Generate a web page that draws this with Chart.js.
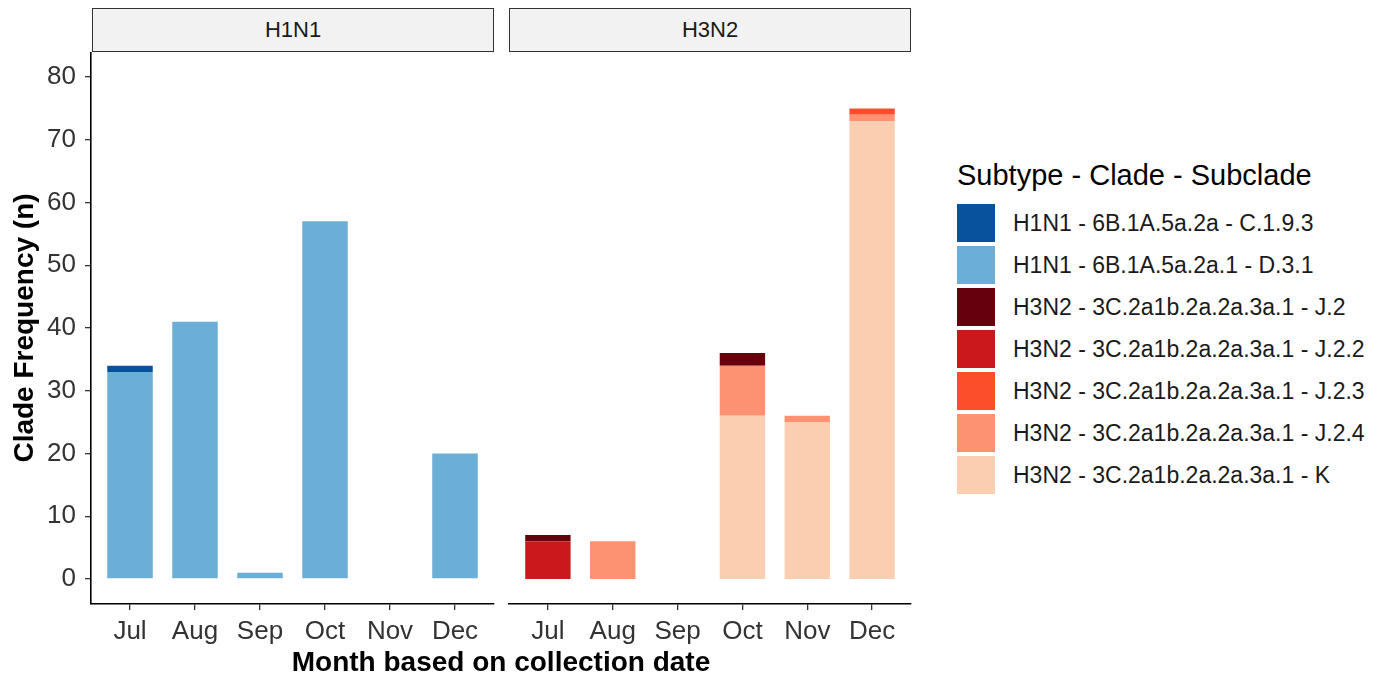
<!DOCTYPE html>
<html lang="en">
<head>
    <meta charset="UTF-8">
    <script src="https://cdn.jsdelivr.net/npm/chart.js"></script>
    <style>
        body {
            margin: 0;
            width: 1389px;
            height: 679px;
            background: #fff;
            font-family: "Liberation Sans", Arial, sans-serif;
            position: relative;
            overflow: hidden;
        }
        .panel {
            position: absolute;
            top: 52px;
            height: 600px;
        }
        .strip {
            position: absolute;
            top: 8px;
            height: 44px;
            box-sizing: border-box;
            border: 1.5px solid #333;
            background: #f2f2f2;
            color: #1a1a1a;
            font-size: 22px;
            display: flex;
            align-items: center;
            justify-content: center;
        }
        .x-title {
            position: absolute;
            left: 91px;
            width: 820px;
            top: 646px;
            text-align: center;
            font-size: 28px;
            font-weight: bold;
            color: #000;
        }
        .legend {
            position: absolute;
            left: 957px;
            top: 161px;
        }
        .legend-title {
            font-size: 29px;
            line-height: 1;
            color: #000;
            margin-bottom: 12px;
        }
        .legend-item {
            display: flex;
            align-items: center;
            height: 42px;
        }
        .legend-color {
            width: 38px;
            height: 38px;
            margin-right: 18px;
        }
        .legend-item span {
            font-size: 23px;
            color: #1a1a1a;
        }
    </style>
</head>
<body>
    <div class="strip" style="left: 92px; width: 402px;">H1N1</div>
    <div class="strip" style="left: 509px; width: 402px;">H3N2</div>

    <div class="panel" style="left: 0; width: 500px;"><canvas id="h1Chart"></canvas></div>
    <div class="panel" style="left: 500px; width: 416px;"><canvas id="h3Chart"></canvas></div>

    <div class="x-title">Month based on collection date</div>
    <div class="legend" id="legend">
        <div class="legend-title">Subtype - Clade - Subclade</div>
    </div>

    <script>
        const months = ['Jul', 'Aug', 'Sep', 'Oct', 'Nov', 'Dec'];
        const yTicks = [0, 10, 20, 30, 40, 50, 60, 70, 80];

        // legend order = stacking order from top to bottom
        const cladeLabels = [
            'H1N1 - 6B.1A.5a.2a - C.1.9.3',
            'H1N1 - 6B.1A.5a.2a.1 - D.3.1',
            'H3N2 - 3C.2a1b.2a.2a.3a.1 - J.2',
            'H3N2 - 3C.2a1b.2a.2a.3a.1 - J.2.2',
            'H3N2 - 3C.2a1b.2a.2a.3a.1 - J.2.3',
            'H3N2 - 3C.2a1b.2a.2a.3a.1 - J.2.4',
            'H3N2 - 3C.2a1b.2a.2a.3a.1 - K'
        ];
        const cladeColors = ['#08519c', '#6baed6', '#67000d', '#cb181d', '#fc4e2a', '#fc9272', '#fbceb1'];

        // counts per month (Jul..Dec)
        const h1n1_C193 = [1, 0, 0, 0, 0, 0];
        const h1n1_D31  = [33, 41, 1, 57, 0, 20];
        const h3n2_J2   = [1, 0, 0, 2, 0, 0];
        const h3n2_J22  = [6, 0, 0, 0, 0, 0];
        const h3n2_J23  = [0, 0, 0, 0, 0, 1];
        const h3n2_J24  = [0, 6, 0, 8, 1, 1];
        const h3n2_K    = [0, 0, 0, 26, 25, 73];

        Chart.defaults.font.family = '"Liberation Sans", Arial, sans-serif';

        function makeDatasets(series, idx) {
            // first dataset is drawn at the bottom of the stack, so reverse
            const sets = series.map((vals, i) => ({
                label: cladeLabels[idx[i]],
                data: vals.map((v, j) => ({ x: j + 1, y: v })),
                backgroundColor: cladeColors[idx[i]],
                borderWidth: 0,
                barPercentage: 0.7,
                categoryPercentage: 1
            }));
            return sets.reverse();
        }

        function noPad(s) {
            s.paddingTop = 0; s.paddingBottom = 0; s.paddingLeft = 0; s.paddingRight = 0;
        }

        function buildChart(id, datasets, showY, padding) {
            return new Chart(document.getElementById(id), {
                type: 'bar',
                data: { datasets: datasets },
                options: {
                    responsive: true,
                    maintainAspectRatio: false,
                    animation: false,
                    layout: { padding: padding },
                    plugins: { legend: { display: false }, tooltip: { enabled: false } },
                    scales: {
                        x: {
                            type: 'linear',
                            stacked: true,
                            offset: false,
                            min: 0.4,
                            max: 6.6,
                            afterBuildTicks: s => { s.ticks = months.map((m, i) => ({ value: i + 1 })); },
                            afterFit: s => { s.height = 48; noPad(s); },
                            ticks: {
                                callback: v => months[v - 1],
                                autoSkip: false,
                                maxRotation: 0,
                                padding: 6,
                                color: '#333',
                                font: { size: 26 }
                            },
                            grid: { offset: false, drawOnChartArea: false, tickLength: 6, color: '#333', lineWidth: 1.3 },
                            border: { color: '#000', width: 1.6 }
                        },
                        y: {
                            display: showY,
                            stacked: true,
                            min: -4,
                            max: 84,
                            afterBuildTicks: s => { s.ticks = yTicks.map(v => ({ value: v })); },
                            afterFit: s => { s.width = showY ? 91 : 0; noPad(s); },
                            ticks: {
                                padding: 9,
                                color: '#333',
                                font: { size: 26 }
                            },
                            grid: { drawOnChartArea: false, tickLength: 6, color: '#333', lineWidth: 1.3 },
                            border: { color: '#000', width: 1.6 },
                            title: {
                                display: true,
                                text: 'Clade Frequency (n)',
                                font: { size: 28, weight: 'bold' },
                                color: '#000',
                                padding: { top: 8, bottom: 0 }
                            }
                        }
                    }
                }
            });
        }

        buildChart('h1Chart', makeDatasets([h1n1_C193, h1n1_D31], [0, 1]), true,
            { left: 0, right: 6, top: 0, bottom: 0 });
        buildChart('h3Chart', makeDatasets([h3n2_J2, h3n2_J22, h3n2_J23, h3n2_J24, h3n2_K], [2, 3, 4, 5, 6]), false,
            { left: 9, right: 5, top: 0, bottom: 0 });

        const legend = document.getElementById('legend');
        cladeLabels.forEach((label, i) => {
            const item = document.createElement('div');
            item.className = 'legend-item';
            const box = document.createElement('div');
            box.className = 'legend-color';
            box.style.backgroundColor = cladeColors[i];
            const text = document.createElement('span');
            text.textContent = label;
            item.appendChild(box);
            item.appendChild(text);
            legend.appendChild(item);
        });
    </script>
</body>
</html>
